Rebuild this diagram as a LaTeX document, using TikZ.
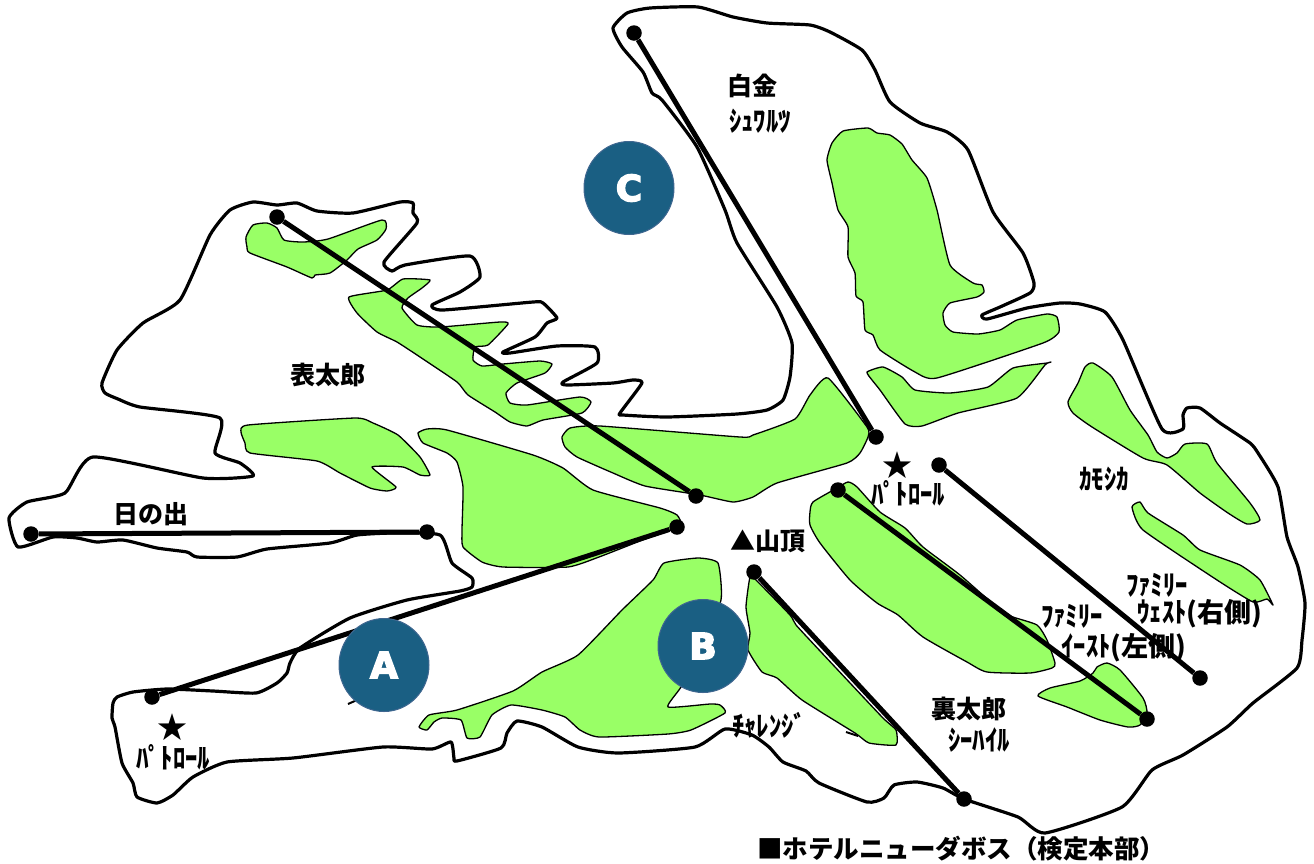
\documentclass[tikz,border=0pt]{standalone}
\usepackage{fontspec}
\newfontfamily\jpfont{Noto Sans CJK JP}
\newfontfamily\halffont[BoldFeatures={FakeStretch=0.88}]{Noto Sans CJK JP}
\newfontfamily\djfont[BoldFeatures={FakeBold=4}]{DejaVu Sans}
\definecolor{grn}{HTML}{99FF66}
\definecolor{blu}{HTML}{1A5F83}
\definecolor{blb}{HTML}{3F6790}
\usetikzlibrary{shapes.geometric}
\newcommand{\kjp}[1]{{\jpfont\bfseries\fontsize{27}{27}\selectfont #1}}
\newcommand{\lowr}[1]{\raisebox{-3.5pt}{#1}}
\tikzset{
  patch/.style={fill=grn,draw=black,line width=1.3pt,line join=round},
  outlinepath/.style={draw=black,line width=3.2pt,line join=round,fill=none},
  spine/.style={draw=black,line width=5pt},
  dot/.style={circle,fill=black,inner sep=0pt,minimum size=15.5pt},
  badge/.style={ellipse,fill=blu,draw=blb,line width=1pt,inner sep=0pt,minimum width=90pt,minimum height=93pt,text=white,font=\djfont\bfseries\fontsize{36}{36}\selectfont},
  big/.style={inner sep=0pt,font=\jpfont\bfseries\fontsize{25}{25}\selectfont},
  starmark/.style={inner sep=0pt,font=\jpfont\bfseries\fontsize{30}{30}\selectfont},
  half/.style={inner sep=0pt,font=\halffont\bfseries\fontsize{28}{28}\selectfont},
  hotel/.style={inner sep=0pt,font=\jpfont\bfseries\fontsize{25.5}{26}\selectfont},
}
\begin{document}
\begin{tikzpicture}[x=1pt,y=-1pt]
\useasboundingbox (0,0) rectangle (1314,863);
% green patches
\path[patch] plot[smooth cycle,tension=0.35] coordinates {(246,237)(253,225)(267,223)(277,228)(284,240)(303,242)(328,239)(382,220)(386,229)(377,240)(358,249)(347,260)(330,273)(315,275)(312,278)(287,267)(250,253)(247,247)};
\path[patch] plot[smooth cycle,tension=0.3] coordinates {(349,297)(387,290)(403,279)(430,280)(422,288)(408,298)(402,308)(417,325)(440,327)(500,322)(508,324)(488,345)(475,347)(473,360)(482,366)(503,364)(540,361)(552,364)(545,373)(517,383)(506,393)(510,403)(527,405)(580,397)(591,402)(582,413)(543,420)(527,426)(510,422)(495,412)(468,395)(457,382)(420,357)(397,342)(377,332)(357,313)};
\path[patch] plot[smooth cycle,tension=0.3] coordinates {(241,432)(248,425)(355,418)(373,423)(398,435)(420,457)(430,475)(420,475)(403,467)(372,467)(396,487)(387,491)(370,488)(340,473)(317,461)(250,453)(245,443)};
\path[patch] plot[smooth cycle,tension=0.3] coordinates {(418,433)(427,429)(447,430)(533,455)(563,468)(593,490)(660,508)(677,515)(680,526)(640,541)(599,557)(568,567)(503,567)(482,562)(463,547)(462,530)(463,487)(457,462)(447,453)(423,443)};
\path[patch] plot[smooth cycle,tension=0.3] coordinates {(562,437)(570,428)(600,426)(740,437)(753,435)(795,419)(810,395)(828,378)(867,427)(868,437)(860,453)(847,463)(777,483)(753,497)(733,502)(700,495)(645,486)(613,473)(577,457)(565,447)};
\path[patch] plot[smooth cycle,tension=0.3] coordinates {(827,160)(832,143)(843,131)(868,128)(877,133)(890,135)(902,144)(912,160)(927,178)(937,210)(950,265)(973,283)(982,285)(984,292)(977,297)(950,303)(943,313)(945,325)(953,332)(978,334)(1000,330)(1017,320)(1047,314)(1057,317)(1059,332)(1043,343)(937,378)(915,372)(880,350)(873,335)(865,330)(863,302)(856,296)(855,273)(848,257)(848,227)(838,210)(832,183)};
\path[patch] plot[smooth cycle,tension=0.3] coordinates {(867,372)(883,367)(902,377)(915,390)(950,393)(988,387)(1013,368)(1047,363)(1051,362)(1045,365)(1017,398)(958,413)(922,426)(905,424)(880,390)(872,380)};
\path[patch] plot[smooth cycle,tension=0.35] coordinates {(1068,402)(1078,383)(1085,367)(1093,363)(1112,377)(1130,410)(1148,435)(1157,452)(1167,458)(1177,453)(1185,444)(1207,444)(1217,463)(1250,503)(1260,520)(1247,524)(1228,513)(1200,493)(1167,465)(1143,458)(1092,427)(1073,413)};
\path[patch] plot[smooth cycle,tension=0.3] coordinates {(1132,507)(1140,502)(1148,513)(1183,535)(1200,550)(1240,565)(1260,580)(1273,605)(1267,599)(1253,602)(1217,580)(1143,530)};
\path[patch] plot[smooth cycle,tension=0.35] coordinates {(1038,696)(1050,688)(1080,681)(1093,673)(1097,667)(1107,663)(1120,670)(1143,698)(1147,713)(1140,725)(1128,727)(1100,720)(1067,707)};
\path[patch] plot[smooth cycle,tension=0.35] coordinates {(810,512)(813,502)(837,488)(848,482)(857,487)(880,512)(905,528)(923,547)(960,575)(1000,610)(1013,617)(1037,625)(1047,640)(1055,663)(1052,668)(1030,673)(987,672)(967,662)(923,637)(898,615)(877,603)(850,580)(820,543)(810,525)};
\path[patch] plot[smooth cycle,tension=0.3] coordinates {(419,727)(429,715)(457,710)(513,691)(542,672)(578,655)(622,610)(653,580)(664,563)(698,558)(718,563)(721,600)(700,650)(681,687)(668,707)(710,704)(720,705)(725,713)(691,730)(668,734)(599,737)(580,730)(565,717)(542,710)(511,705)(492,715)(480,737)(467,738)(461,720)(442,718)(434,722)(427,730)};
\path[patch] plot[smooth cycle,tension=0.3] coordinates {(750,577)(746,607)(750,633)(748,650)(762,672)(777,678)(802,700)(855,733)(869,743)(896,745)(896,730)(882,717)(821,652)(796,625)(790,615)(756,580)};
% outline
\path[outlinepath] plot[smooth cycle,tension=0.33] coordinates {(9,518)(18,547)(53,537)(77,538)(97,542)(123,540)(157,548)(187,552)(197,557)(237,557)(267,549)(330,543)(357,535)(393,533)(440,535)(452,563)(472,578)(472,587)(460,591)(407,600)(350,618)(300,648)(290,663)(287,673)(277,683)(256,693)(213,691)(167,689)(133,692)(117,697)(113,703)(112,718)(115,727)(122,763)(133,783)(137,797)(157,803)(173,795)(193,777)(227,762)(293,758)(383,747)(432,749)(451,742)(454,758)(457,761)(501,748)(507,733)(517,721)(542,727)(578,747)(618,753)(695,747)(725,729)(752,735)(769,747)(783,762)(806,771)(819,783)(867,802)(884,798)(894,785)(917,782)(943,788)(964,799)(1018,817)(1045,833)(1122,807)(1152,770)(1183,755)(1227,727)(1253,703)(1297,668)(1302,640)(1305,603)(1298,567)(1287,537)(1278,487)(1258,453)(1250,443)(1220,423)(1200,408)(1187,408)(1183,415)(1183,429)(1162,429)(1123,340)(1105,312)(1080,304)(1060,303)(1027,308)(987,319)(982,315)(1000,307)(1030,293)(1034,283)(1023,253)(993,212)(968,150)(947,132)(920,123)(890,102)(875,70)(862,50)(830,32)(810,25)(767,23)(733,17)(698,7)(650,8)(627,13)(613,28)(622,47)(643,72)(652,93)(662,100)(697,147)(725,210)(737,243)(777,307)(792,343)(790,377)(783,400)(767,410)(737,414)(667,417)(623,415)(620,413)(642,383)(633,380)(613,383)(567,385)(563,382)(597,363)(595,347)(557,346)(510,353)(503,352)(535,337)(547,323)(557,318)(543,303)(533,302)(443,310)(432,305)(460,292)(480,277)(470,256)(405,265)(392,271)(384,262)(417,223)(413,213)(413,203)(400,202)(353,213)(317,211)(297,203)(277,205)(253,202)(230,210)(210,235)(180,300)(143,323)(117,350)(102,383)(105,393)(118,399)(140,407)(220,418)(215,453)(240,463)(253,476)(203,478)(93,457)(65,493)(27,502)};
% small strokes
\coordinate (sa) at (348,704); \coordinate (sb) at (357,700);
\coordinate (sc) at (846,732); \coordinate (sd) at (858,736);
\draw[line width=2pt] (sa) -- (sb);
\draw[line width=2pt] (sc) -- (sd);
% dots
\node[dot] (h1) at (31,534) {};
\node[dot] (h2) at (427,532) {};
\node[dot] (a1) at (152,697) {};
\node[dot] (a2) at (677,527) {};
\node[dot] (o1) at (277,217) {};
\node[dot] (o2) at (696,496) {};
\node[dot] (c1) at (634,33) {};
\node[dot] (c2) at (876,437) {};
\node[dot] (e1) at (838,490) {};
\node[dot] (e2) at (1147,719) {};
\node[dot] (w1) at (939,465) {};
\node[dot] (w2) at (1200,678) {};
\node[dot] (b1) at (754,572) {};
\node[dot] (b2) at (964,799) {};
% spines
\draw[spine] (h1) -- (h2);
\draw[spine] (a1) -- (a2);
\draw[spine] (o1) -- (o2);
\draw[spine] (c1) -- (c2);
\draw[spine] (e1) -- (e2);
\draw[spine] (w1) -- (w2);
\draw[spine] (b1) -- (b2);
% badges
\node[badge] (ba) at (384,665) {\lowr{A}};
\node[badge] (bb) at (703,646) {\lowr{B}};
\node[badge] (bc) at (629,188) {\lowr{C}};
% labels
\node[big] (l1) at (328,375) {表太郎};
\node[big] (l2) at (151,514) {日の出};
\node[big] (l3) at (752,86) {白金};
\node[half] (l4) at (760,121) {ｼｭﾜﾙﾂ};
\node[starmark] (s1) at (172,727) {★};
\node[half] (l5) at (173,757) {ﾊﾟﾄﾛｰﾙ};
\node[starmark] (s2) at (897,465) {★};
\node[half] (l6) at (908,493) {ﾊﾟﾄﾛｰﾙ};
\node[big] (l7) at (768,541) {▲山頂};
\node[half] (l8) at (1104,479) {ｶﾓｼｶ};
\node[half] (l9) at (1157,585) {ﾌｧﾐﾘｰ};
\node[half] (l10) at (1200,614) {ｳｪｽﾄ\kjp{(右側)}};
\node[half] (l11) at (1072,616) {ﾌｧﾐﾘｰ};
\node[half] (l12) at (1124,648) {ｲｰｽﾄ\kjp{(左側)}};
\node[big] (l13) at (969,709) {裏太郎};
\node[half] (l14) at (979,740) {ｼｰﾊｲﾙ};
\node[half] (l15) at (769,725) {ﾁｬﾚﾝｼﾞ};
\node[hotel] (l16) at (961,849) {■ホテルニューダボス（検定本部）};
\end{tikzpicture}
\end{document}
